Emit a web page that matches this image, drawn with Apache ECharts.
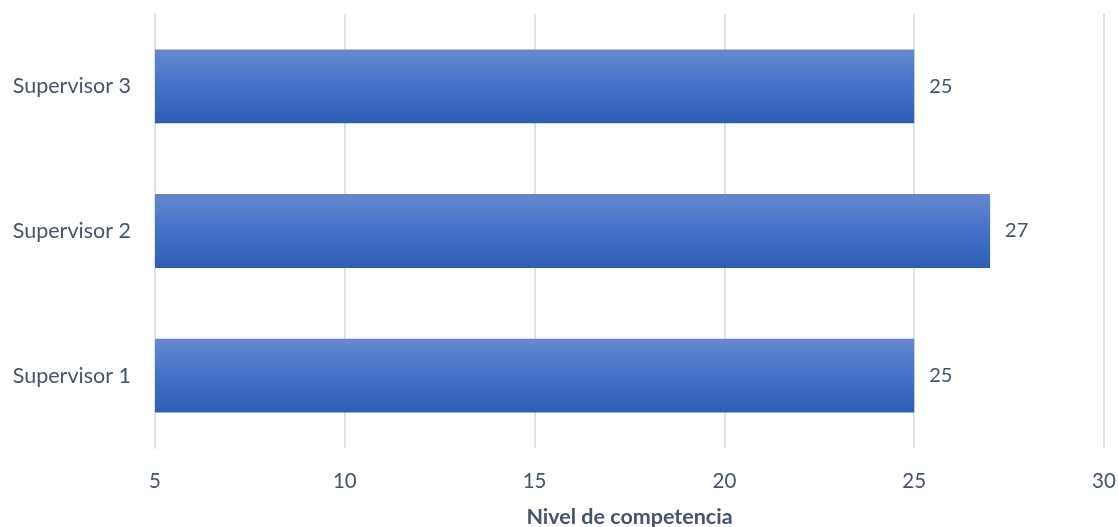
<!DOCTYPE html>
<html>
<head>
<meta charset="utf-8">
<script src="https://cdn.jsdelivr.net/npm/echarts@6/dist/echarts.min.js"></script>
<style>html,body{margin:0;padding:0;background:#fff}#c{width:1118px;height:527px}</style>
</head>
<body>
<div id="c"></div>
<script>
const categories = ["Supervisor 1", "Supervisor 2", "Supervisor 3"];
const values = [25, 27, 25];
const axisName = "Nivel de competencia";
const xMin = 5, xMax = 30, xInterval = 5;

const chart = echarts.init(document.getElementById('c'));
const font = 'Lato, "Open Sans", sans-serif';
chart.setOption({
  animation: false,
  grid: {left: 155, right: 14, top: 14, bottom: 79, containLabel: false, outerBoundsMode: 'none'},
  xAxis: {
    type: 'value', min: xMin, max: xMax, interval: xInterval,
    name: axisName, nameLocation: 'middle', nameGap: 58,
    nameTextStyle: {fontFamily: font, fontSize: 21.5, fontWeight: 'bold', color: '#44546a'},
    axisLine: {show: false}, axisTick: {show: false},
    axisLabel: {fontFamily: font, fontSize: 20.5, color: '#44546a', margin: 23},
    splitLine: {show: true, lineStyle: {color: '#dde1e8', width: 2}}
  },
  yAxis: {
    type: 'category', data: categories,
    axisLine: {show: true, lineStyle: {color: '#dde1e8', width: 2}},
    axisTick: {show: false},
    axisLabel: {fontFamily: font, fontSize: 21.5, color: '#44546a', margin: 24}
  },
  series: [{
    type: 'bar', data: values, barCategoryGap: '49%',
    itemStyle: {color: new echarts.graphic.LinearGradient(0, 0, 0, 1, [
      {offset: 0, color: '#6688cf'},
      {offset: 0.5, color: '#4471c9'},
      {offset: 1, color: '#2e5db6'}
    ])},
    label: {show: true, position: 'right', distance: 15, fontFamily: font, fontSize: 20, color: '#44546a'}
  }]
});
</script>
</body>
</html>
